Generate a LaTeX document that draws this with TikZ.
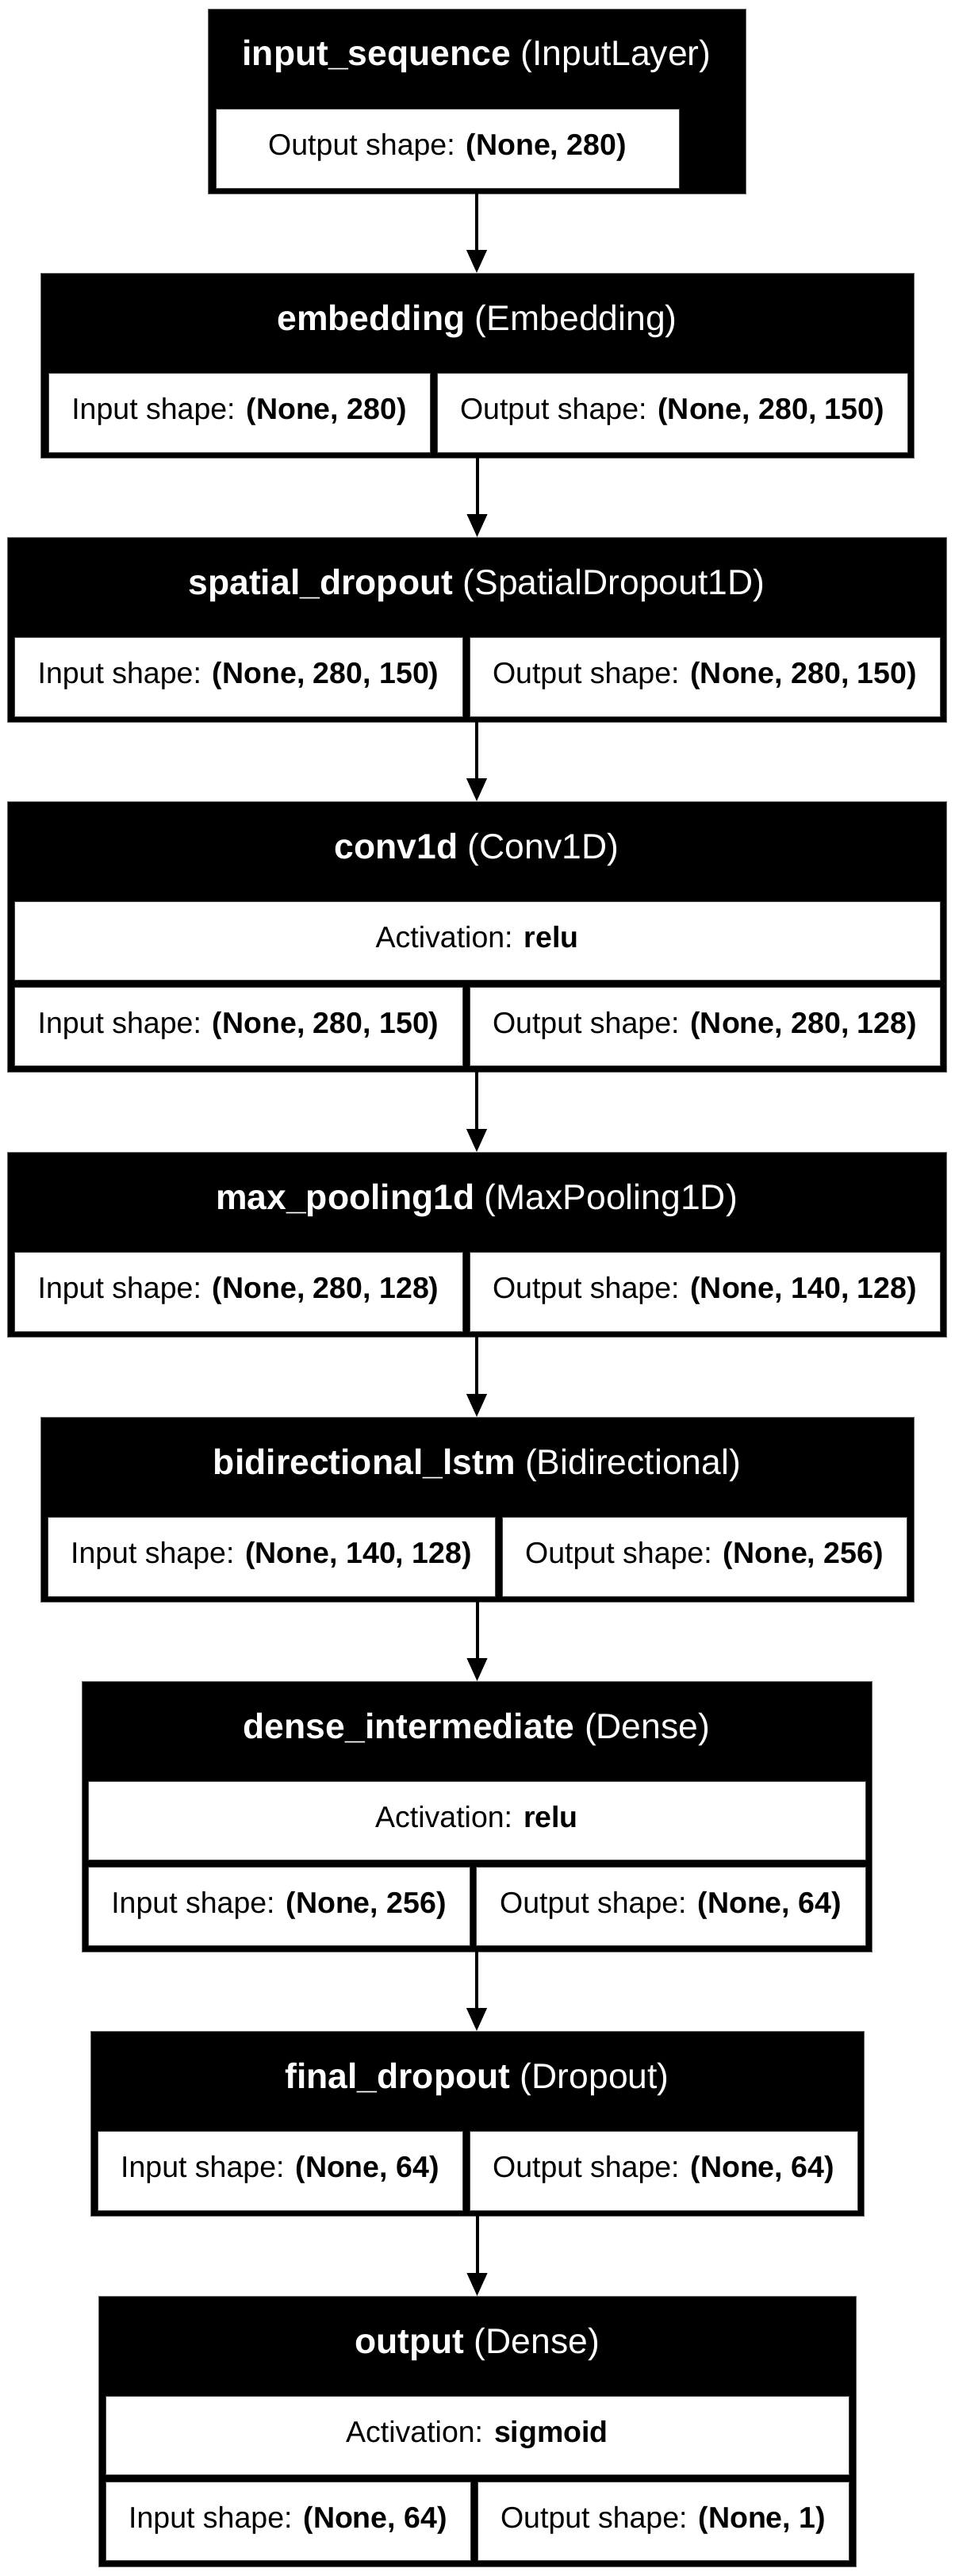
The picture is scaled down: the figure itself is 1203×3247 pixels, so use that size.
\documentclass[tikz,border=0pt]{standalone}
\usepackage{fontspec}
\setmainfont{Liberation Sans}
\usetikzlibrary{arrows.meta}
\newcommand\lyrtitlefont{\fontsize{44.5}{50}\selectfont}
\newcommand\lyrcellfont{\fontsize{37.5}{45}\selectfont}
\tikzset{
  blk/.style={fill=black, draw=black!60, line width=1pt, inner sep=0pt, outer sep=0pt},
  cell/.style={fill=white, draw=black!75, line width=1pt, inner sep=0pt, outer sep=0pt,
               font=\lyrcellfont, text height=27pt, text depth=10pt, align=center},
  ttl/.style={anchor=base, inner sep=0pt, outer sep=0pt, text=white, font=\lyrtitlefont},
  conn/.style={line width=4pt, -{Triangle[length=29pt,width=25pt]}}
}
\begin{document}
\begin{tikzpicture}[x=1pt,y=-1pt]
\fill[white] (0,0) rectangle (1203,3247);
\useasboundingbox (0,0) rectangle (1203,3247);

% Block 1: input_sequence
\node[blk, minimum width=678pt, minimum height=233pt] (b1) at (601,127.5) {};
\node[ttl] (b1t) at (601,82) {\textbf{input\_sequence} (InputLayer)};
\node[cell, minimum width=584pt, minimum height=100pt] (b1o) at (564,187) {Output shape: \textbf{(None, 280)}};

% Block 2: embedding
\node[blk, minimum width=1101pt, minimum height=233pt] (b2) at (601.5,460.5) {};
\node[ttl] (b2t) at (601.5,416) {\textbf{embedding} (Embedding)};
\node[cell, minimum width=481pt, minimum height=100pt] (b2i) at (301.5,520) {Input shape: \textbf{(None, 280)}};
\node[cell, minimum width=593pt, minimum height=100pt] (b2o) at (847.5,520) {Output shape: \textbf{(None, 280, 150)}};

% Block 3: spatial_dropout
\node[blk, minimum width=1184pt, minimum height=233pt] (b3) at (601,793.5) {};
\node[ttl] (b3t) at (601,749) {\textbf{spatial\_dropout} (SpatialDropout1D)};
\node[cell, minimum width=565pt, minimum height=100pt] (b3i) at (300.5,853) {Input shape: \textbf{(None, 280, 150)}};
\node[cell, minimum width=593pt, minimum height=100pt] (b3o) at (888.5,853) {Output shape: \textbf{(None, 280, 150)}};

% Block 4: conv1d
\node[blk, minimum width=1184pt, minimum height=341pt] (b4) at (601,1180.5) {};
\node[ttl] (b4t) at (601,1082) {\textbf{conv1d} (Conv1D)};
\node[cell, minimum width=1167pt, minimum height=99pt] (b4a) at (601.5,1185.5) {Activation: \textbf{relu}};
\node[cell, minimum width=565pt, minimum height=99pt] (b4i) at (300.5,1293.5) {Input shape: \textbf{(None, 280, 150)}};
\node[cell, minimum width=593pt, minimum height=99pt] (b4o) at (888.5,1293.5) {Output shape: \textbf{(None, 280, 128)}};

% Block 5: max_pooling1d
\node[blk, minimum width=1184pt, minimum height=233pt] (b5) at (601,1568.5) {};
\node[ttl] (b5t) at (601,1524) {\textbf{max\_pooling1d} (MaxPooling1D)};
\node[cell, minimum width=565pt, minimum height=100pt] (b5i) at (300.5,1628) {Input shape: \textbf{(None, 280, 128)}};
\node[cell, minimum width=593pt, minimum height=100pt] (b5o) at (888.5,1628) {Output shape: \textbf{(None, 140, 128)}};

% Block 6: bidirectional_lstm
\node[blk, minimum width=1101pt, minimum height=233pt] (b6) at (601.5,1902.5) {};
\node[ttl] (b6t) at (601.5,1858) {\textbf{bidirectional\_lstm} (Bidirectional)};
\node[cell, minimum width=564pt, minimum height=100pt] (b6i) at (342,1962) {Input shape: \textbf{(None, 140, 128)}};
\node[cell, minimum width=510pt, minimum height=100pt] (b6o) at (888,1962) {Output shape: \textbf{(None, 256)}};

% Block 7: dense_intermediate
\node[blk, minimum width=996pt, minimum height=341pt] (b7) at (601,2289.5) {};
\node[ttl] (b7t) at (601,2191) {\textbf{dense\_intermediate} (Dense)};
\node[cell, minimum width=980pt, minimum height=99pt] (b7a) at (601,2294.5) {Activation: \textbf{relu}};
\node[cell, minimum width=481pt, minimum height=99pt] (b7i) at (351.5,2402.5) {Input shape: \textbf{(None, 256)}};
\node[cell, minimum width=491pt, minimum height=99pt] (b7o) at (845.5,2402.5) {Output shape: \textbf{(None, 64)}};

% Block 8: final_dropout
\node[blk, minimum width=975pt, minimum height=233pt] (b8) at (601.5,2676.5) {};
\node[ttl] (b8t) at (601.5,2632) {\textbf{final\_dropout} (Dropout)};
\node[cell, minimum width=460pt, minimum height=100pt] (b8i) at (353,2736) {Input shape: \textbf{(None, 64)}};
\node[cell, minimum width=489pt, minimum height=100pt] (b8o) at (836.5,2736) {Output shape: \textbf{(None, 64)}};

% Block 9: output
\node[blk, minimum width=955pt, minimum height=341pt] (b9) at (601.5,3064.5) {};
\node[ttl] (b9t) at (601.5,2966) {\textbf{output} (Dense)};
\node[cell, minimum width=937pt, minimum height=99pt] (b9a) at (601.5,3069.5) {Activation: \textbf{sigmoid}};
\node[cell, minimum width=460pt, minimum height=99pt] (b9i) at (363,3177.5) {Input shape: \textbf{(None, 64)}};
\node[cell, minimum width=468pt, minimum height=99pt] (b9o) at (836,3177.5) {Output shape: \textbf{(None, 1)}};

% Connectors
\draw[conn] (b1.south) -- (b1.south |- b2.north);
\draw[conn] (b2.south) -- (b2.south |- b3.north);
\draw[conn] (b3.south) -- (b3.south |- b4.north);
\draw[conn] (b4.south) -- (b4.south |- b5.north);
\draw[conn] (b5.south) -- (b5.south |- b6.north);
\draw[conn] (b6.south) -- (b6.south |- b7.north);
\draw[conn] (b7.south) -- (b7.south |- b8.north);
\draw[conn] (b8.south) -- (b8.south |- b9.north);
\end{tikzpicture}
\end{document}
